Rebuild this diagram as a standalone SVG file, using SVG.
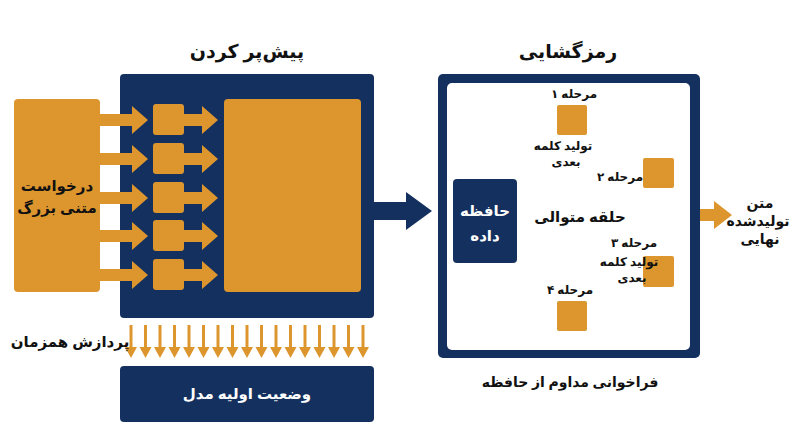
<svg xmlns="http://www.w3.org/2000/svg" width="800" height="447" viewBox="0 0 800 447">
<defs>
<style>
text{font-family:"Noto Sans","DejaVu Sans",sans-serif;font-weight:bold;direction:rtl;text-anchor:middle}
.n{fill:#14305f}.o{fill:#dd962e}
.t{font-size:13px;fill:#111}
.w{fill:#fff}
.arc{fill:none;stroke:#dd962e;stroke-width:5}
</style>
<marker id="ah" viewBox="0 0 10 10" refX="5" refY="5" markerWidth="4" markerHeight="4" orient="auto" markerUnits="strokeWidth"><path d="M0,0L10,5L0,10z" fill="#dd962e"/></marker>
<symbol id="ra" overflow="visible"><path d="M0,-6H20V-14L34,0L20,14V-6z" transform="scale(1)"/></symbol>
</defs>
<rect width="800" height="447" fill="#fff"/>
<text x="247" y="58" style="font-size:19px" fill="#111">پیش‌پر کردن</text>
<text x="568" y="58" style="font-size:19px" fill="#111">رمزگشایی</text>
<g id="prefill"><rect class="n" x="120" y="74" width="254" height="244" rx="4"/></g>
<g id="input"><rect class="o" x="14" y="99" width="86" height="193" rx="4"/>
<text class="t" x="57" y="191" style="font-size:15px">درخواست</text><text class="t" x="57" y="213" style="font-size:15px">متنی بزرگ</text></g>
<g id="tokens" class="o">
<rect x="153" y="104" width="31" height="31" rx="3"/><rect x="153" y="143" width="31" height="31" rx="3"/><rect x="153" y="182" width="31" height="31" rx="3"/><rect x="153" y="220" width="31" height="31" rx="3"/><rect x="153" y="259" width="31" height="31" rx="3"/>
</g>
<g id="kv"><rect class="o" x="224" y="99" width="137" height="193" rx="4"/></g>
<g id="connectors">
<g class="o">
<path d="M100,114H132V106L148,120L132,134V126H100z"/><path d="M100,153H132V145L148,159L132,173V165H100z"/><path d="M100,192H132V184L148,198L132,212V204H100z"/><path d="M100,230H132V222L148,236L132,250V242H100z"/><path d="M100,269H132V261L148,275L132,289V281H100z"/>
<path d="M184,114H202V106L218,120L202,134V126H184z"/><path d="M184,153H202V145L218,159L202,173V165H184z"/><path d="M184,192H202V184L218,198L202,212V204H184z"/><path d="M184,230H202V222L218,236L202,250V242H184z"/><path d="M184,269H202V261L218,275L202,289V281H184z"/>
</g>
<g stroke="#dd962e" stroke-width="3" fill="#dd962e">
<path d="M131,325V350"/><path d="M145.5,325V350"/><path d="M160,325V350"/><path d="M174.5,325V350"/><path d="M189,325V350"/><path d="M203.5,325V350"/><path d="M218,325V350"/><path d="M232.5,325V350"/><path d="M247,325V350"/><path d="M261.5,325V350"/><path d="M276,325V350"/><path d="M290.5,325V350"/><path d="M305,325V350"/><path d="M319.5,325V350"/><path d="M334,325V350"/><path d="M348.5,325V350"/><path d="M363,325V350"/>
</g>
<g class="o">
<path d="M125,347h12l-6,11z"/><path d="M139.5,347h12l-6,11z"/><path d="M154,347h12l-6,11z"/><path d="M168.5,347h12l-6,11z"/><path d="M183,347h12l-6,11z"/><path d="M197.5,347h12l-6,11z"/><path d="M212,347h12l-6,11z"/><path d="M226.5,347h12l-6,11z"/><path d="M241,347h12l-6,11z"/><path d="M255.5,347h12l-6,11z"/><path d="M270,347h12l-6,11z"/><path d="M284.5,347h12l-6,11z"/><path d="M299,347h12l-6,11z"/><path d="M313.5,347h12l-6,11z"/><path d="M328,347h12l-6,11z"/><path d="M342.5,347h12l-6,11z"/><path d="M357,347h12l-6,11z"/>
</g>
<path class="n" d="M374,202H406V192L432,211L406,230V220H374z"/>
<path class="o" d="M690,210H714V202L732,216L714,230V222H690z" transform="translate(0,-1)"/>
<path class="arc" d="M483,178A100,100 0 0 1 548,124" marker-end="url(#ah)"/>
<path class="arc" d="M590,125A100,100 0 0 1 640,155" marker-end="url(#ah)"/>
<path class="arc" d="M667,190A100,100 0 0 1 672,245" marker-end="url(#ah)"/>
<path class="arc" d="M648,290A100,100 0 0 1 594,318" marker-end="url(#ah)"/>
<path class="arc" d="M555,317A100,100 0 0 1 478,272" marker-end="url(#ah)"/>
</g>
<text class="t" x="70" y="347" style="font-size:15px">پردازش همزمان</text>
<g id="init"><rect class="n" x="120" y="366" width="254" height="56" rx="4"/><text x="247" y="399" class="w" style="font-size:15px">وضعیت اولیه مدل</text></g>
<g id="decode"><rect class="n" x="438" y="74" width="262" height="284" rx="5"/><rect x="447" y="83" width="243" height="267" rx="5" fill="#fff"/></g>
<g id="memory"><rect class="n" x="453" y="179" width="64" height="84" rx="4"/><text x="485" y="216" class="w" style="font-size:15px">حافظه</text><text x="485" y="241" class="w" style="font-size:15px">داده</text></g>
<text class="t" x="580" y="222" style="font-size:15px">حلقه متوالی</text>
<g id="s1"><rect class="o" x="557" y="105" width="30" height="30" rx="2"/><text class="t" x="574" y="98" style="font-size:12px">مرحله ۱</text><text class="t" x="563" y="150" style="font-size:12px">تولید کلمه</text><text class="t" x="566" y="166" style="font-size:12px">بعدی</text></g>
<g id="s2"><rect class="o" x="643" y="158" width="31" height="30" rx="2"/><text class="t" x="620" y="181" style="font-size:12px">مرحله ۲</text></g>
<g id="s3"><rect class="o" x="643" y="256" width="31" height="31" rx="2"/><text class="t" x="634" y="247" style="font-size:12px">مرحله ۳</text><text class="t" x="629" y="266" style="font-size:12px">تولید کلمه</text><text class="t" x="632" y="282" style="font-size:12px">بعدی</text></g>
<g id="s4"><rect class="o" x="557" y="301" width="30" height="30" rx="2"/><text class="t" x="570" y="294" style="font-size:12px">مرحله ۴</text></g>
<text class="t" x="570" y="387" style="font-size:14px">فراخوانی مداوم از حافظه</text>
<g id="output"><text class="t" x="760" y="208" style="font-size:14px">متن</text><text class="t" x="758" y="226" style="font-size:14px">تولیدشده</text><text class="t" x="760" y="244" style="font-size:14px">نهایی</text></g>
</svg>
